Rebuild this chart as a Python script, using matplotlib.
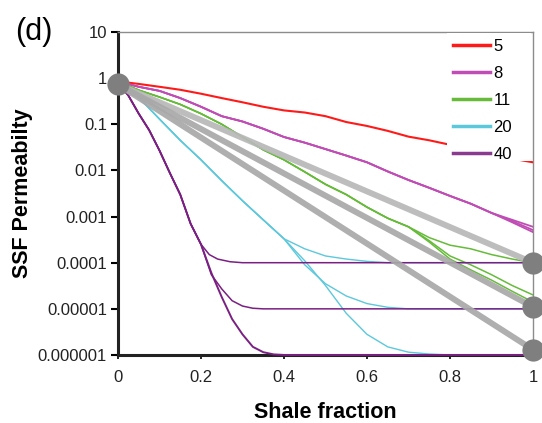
import matplotlib
matplotlib.use("Agg")
import matplotlib.pyplot as plt
from matplotlib.lines import Line2D
from matplotlib.patches import Rectangle

plt.rcParams['font.family'] = ['Liberation Sans', 'DejaVu Sans']

# ---------------- data ----------------
x_common = [0, 0.05, 0.1, 0.15, 0.2, 0.25, 0.3, 0.35, 0.4, 0.45, 0.5,
            0.55, 0.6, 0.65, 0.7, 0.75, 0.8, 0.85, 0.9, 0.95, 1.0]

red_5 = [0.85, 0.75, 0.65, 0.56, 0.46, 0.37, 0.30, 0.24, 0.20, 0.18, 0.15,
         0.112, 0.092, 0.072, 0.054, 0.045, 0.036, 0.029, 0.023, 0.018, 0.015]

mag_8_shared = [0.85, 0.65, 0.53, 0.37, 0.24, 0.15, 0.115, 0.08, 0.053, 0.040,
                0.029, 0.021, 0.015, 0.0095, 0.0062, 0.0042, 0.0028, 0.0019, 0.0012]
mag_8_ends = [[0.00085, 0.0006], [0.0008, 0.00051], [0.00075, 0.00046]]

grn_11_shared = [0.85, 0.55, 0.39, 0.27, 0.17, 0.10, 0.053, 0.028, 0.017, 0.0093,
                 0.0050, 0.0030, 0.0016, 0.00092, 0.0006]
grn_11_ends = [[0.00035, 0.00024, 0.0002, 0.00015, 0.00012, 0.0001],
               [0.0003, 0.00014, 9e-5, 5.5e-5, 3.2e-5, 2.0e-5],
               [0.00028, 0.00012, 7e-5, 4.2e-5, 2.4e-5, 1.4e-5]]

cyan_x_shared = [0, 0.025, 0.05, 0.1, 0.15, 0.2, 0.25, 0.3, 0.35, 0.4]
cyan_20_shared = [0.85, 0.6, 0.38, 0.13, 0.045, 0.017, 0.006, 0.0022, 0.00085, 0.00033]
cyan_x_up = [0.45, 0.5, 0.55, 0.6, 0.65, 1.0]
cyan_20_up = [0.0002, 0.00014, 0.00012, 0.000107, 0.0001, 0.0001]
cyan_x_mid = [0.45, 0.5, 0.55, 0.6, 0.65, 0.7, 1.0]
cyan_20_mid = [9e-5, 3.5e-5, 1.9e-5, 1.3e-5, 1.08e-5, 1.0e-5, 1.0e-5]
cyan_x_low = [0.45, 0.5, 0.55, 0.6, 0.65, 0.7, 0.75, 0.8, 1.0]
cyan_20_low = [0.00011, 3.2e-5, 8e-6, 2.8e-6, 1.5e-6, 1.15e-6, 1.05e-6, 1.0e-6, 1.0e-6]

pur_x_shared = [0, 0.025, 0.05, 0.075, 0.1, 0.125, 0.15, 0.175, 0.2]
pur_40_shared = [0.8, 0.42, 0.17, 0.075, 0.027, 0.0088, 0.0030, 0.0007, 0.00025]
pur_x_up = [0.22, 0.24, 0.27, 0.3, 1.0]
pur_40_up = [0.00015, 0.00012, 0.000105, 0.0001, 0.0001]
pur_x_mid = [0.225, 0.25, 0.275, 0.3, 0.325, 0.35, 1.0]
pur_40_mid = [5.5e-5, 2.7e-5, 1.5e-5, 1.15e-5, 1.03e-5, 1.0e-5, 1.0e-5]
pur_x_low = [0.225, 0.25, 0.275, 0.3, 0.325, 0.35, 0.375, 0.4, 1.0]
pur_40_low = [6e-5, 1.8e-5, 6e-6, 2.8e-6, 1.5e-6, 1.15e-6, 1.03e-6, 1.0e-6, 1.0e-6]

gray_x = [0, 1]
gray_start = 0.73
gray_ends = [1e-4, 1.1e-5, 1.3e-6]

legend_labels = ['5', '8', '11', '20', '40']
x_ticks = [0, 0.2, 0.4, 0.6, 0.8, 1.0]
x_ticklabels = ['0', '0.2', '0.4', '0.6', '0.8', '1']
y_ticks = [1e-6, 1e-5, 1e-4, 1e-3, 1e-2, 1e-1, 1, 10]
y_ticklabels = ['0.000001', '0.00001', '0.0001', '0.001', '0.01', '0.1', '1', '10']

# ---------------- styles ----------------
c_red = '#ff1a1a'
c_mag = '#c04db5'
c_grn = '#66bb3a'
c_cyn = '#5cc8dc'
c_pur = '#7a2082'

fig = plt.figure(figsize=(5.42, 4.23), dpi=100)
ax = fig.add_axes([0.2177, 0.1608, 0.7657, 0.7635])

# red
ax.plot(x_common, red_5, color=c_red, lw=1.5, zorder=3)
# magenta
for e in mag_8_ends:
    ax.plot(x_common, mag_8_shared + e, color=c_mag, lw=1.3, zorder=3)
# green
for e in grn_11_ends:
    ax.plot(x_common, grn_11_shared + e, color=c_grn, lw=1.1, zorder=3)
# cyan
ax.plot(cyan_x_shared + cyan_x_up, cyan_20_shared + cyan_20_up, color=c_cyn, lw=1.0, zorder=3)
ax.plot(cyan_x_shared + cyan_x_mid, cyan_20_shared + cyan_20_mid, color=c_cyn, lw=1.0, zorder=3)
ax.plot(cyan_x_shared + cyan_x_low, cyan_20_shared + cyan_20_low, color=c_cyn, lw=1.0, zorder=3)
# purple
ax.plot(pur_x_shared + pur_x_up, pur_40_shared + pur_40_up, color=c_pur, lw=1.1, zorder=3)
ax.plot(pur_x_shared + pur_x_mid, pur_40_shared + pur_40_mid, color=c_pur, lw=1.1, zorder=3)
ax.plot(pur_x_shared + pur_x_low, pur_40_shared + pur_40_low, color=c_pur, lw=1.4, zorder=3,
        clip_on=False)

# gray trend lines
gray_cols = ['#b8b8b8', '#a8a8a8', '#a8a8a8']
for end, gc in zip(gray_ends, gray_cols):
    ax.plot(gray_x, [gray_start, end], color=gc, lw=4.3, alpha=0.92,
            solid_capstyle='butt', zorder=4)

# circles
ax.plot([gray_x[0]], [gray_start], 'o', color='#7f7f7f', ms=16, mec='none',
        zorder=6, clip_on=False)
for end in gray_ends:
    ax.plot([gray_x[1]], [end], 'o', color='#7f7f7f', ms=16, mec='none',
            zorder=6, clip_on=False)

ax.set_yscale('log')
ax.set_xlim(0, 1)
ax.set_ylim(1e-6, 10)
ax.set_xticks(x_ticks)
ax.set_xticklabels(x_ticklabels)
ax.set_yticks(y_ticks)
ax.set_yticklabels(y_ticklabels)
ax.minorticks_off()
ax.tick_params(axis='y', direction='out', length=5, width=1.5, pad=3, labelsize=12,
               labelcolor='#222222')
ax.tick_params(axis='x', direction='out', length=3, width=1.2, pad=8, labelsize=12,
               labelcolor='#222222')

for s in ['left', 'bottom']:
    ax.spines[s].set_linewidth(2.2)
    ax.spines[s].set_color('#222222')
for s in ['top', 'right']:
    ax.spines[s].set_linewidth(1.0)
    ax.spines[s].set_color('#8c8c8c')

ax.set_xlabel('Shale fraction', fontsize=15.5, fontweight='bold', labelpad=12)
ax.set_ylabel('SSF Permeabilty', fontsize=15.5, fontweight='bold', labelpad=3.5)

# white legend background block
ax.add_patch(Rectangle((0.793, 0.6), 0.202, 0.397, transform=ax.transAxes,
                       facecolor='white', edgecolor='none', zorder=4.5))

# legend
handles = [Line2D([], [], color=c, lw=2.5) for c in
           [c_red, c_mag, c_grn, c_cyn, '#8a3a8f']]
leg = ax.legend(handles, legend_labels, loc='upper left',
                bbox_to_anchor=(0.80, 0.99), frameon=False,
                fontsize=12, handlelength=2.2, handletextpad=0.2,
                labelspacing=0.72, borderpad=0.2, borderaxespad=0)
leg.set_zorder(5)

fig.text(0.028, 0.96, '(d)', fontsize=22, ha='left', va='top')

fig.savefig('out.png', dpi=100)
